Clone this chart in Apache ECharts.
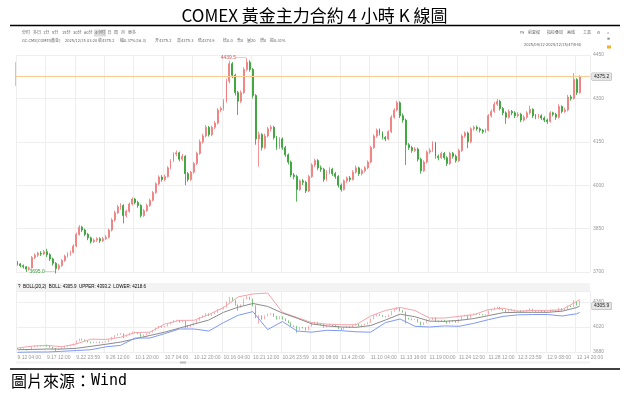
<!DOCTYPE html>
<html>
<head>
<meta charset="utf-8">
<title>COMEX 黃金主力合約 4 小時 K 線圖</title>
<script src="https://cdn.jsdelivr.net/npm/echarts@6/dist/echarts.min.js"></script>
<style>
  html, body { margin: 0; padding: 0; background: #fff; }
  #main { width: 629px; height: 397px; }
</style>
</head>
<body>
<div id="main"></div>
<script>
// x轴时间标签（每10根K线一个）
var tickLabels = ['9.12 04:00', '9.17 12:00', '9.22 23:59', '9.26 12:00', '10.1 20:00',
  '10.7 04:00', '10.12 20:00', '10.16 04:00', '10.21 12:00', '10.26 23:59',
  '10.30 08:00', '11.4 20:00', '11.10 04:00', '11.13 16:00', '11.19 00:00',
  '11.24 12:00', '11.28 12:00', '12.3 23:59', '12.9 08:00', '12.14 20:00'];

// 4小时K线 [开, 收, 低, 高]
var kData = [
  [3732,3728,3722,3738],[3728,3722,3716,3731],[3722,3718,3712,3726],[3718,3710,3700,3721],[3710,3714,3705,3719],
  [3714,3750,3712,3755],[3750,3758,3745,3764],[3758,3765,3752,3770],[3765,3762,3755,3772],[3762,3770,3758,3776],
  [3770,3760,3752,3780],[3760,3745,3738,3765],[3745,3730,3722,3750],[3730,3712,3695,3734],[3712,3722,3706,3728],
  [3722,3740,3718,3745],[3740,3755,3735,3760],[3755,3762,3750,3768],[3762,3768,3756,3774],[3768,3790,3764,3796],
  [3790,3830,3786,3836],[3830,3855,3826,3862],[3855,3845,3838,3860],[3845,3830,3824,3850],[3830,3818,3810,3835],
  [3818,3805,3798,3822],[3805,3810,3800,3816],[3810,3815,3804,3820],[3815,3808,3800,3820],[3808,3815,3804,3821],
  [3815,3820,3810,3828],[3820,3845,3816,3850],[3845,3880,3840,3886],[3880,3905,3874,3912],[3905,3925,3900,3932],
  [3925,3930,3915,3938],[3930,3895,3868,3934],[3895,3910,3888,3916],[3910,3935,3905,3940],[3935,3952,3930,3958],
  [3952,3940,3934,3956],[3940,3930,3922,3946],[3930,3895,3888,3934],[3895,3912,3890,3918],[3912,3930,3908,3936],
  [3930,3948,3925,3954],[3948,3975,3944,3980],[3975,4005,3970,4010],[4005,4028,4000,4034],[4028,4020,4012,4035],
  [4020,4030,4014,4037],[4030,4060,4026,4066],[4060,4085,4055,4090],[4085,4108,4080,4114],[4108,4112,4100,4120],
  [4112,4090,4082,4116],[4090,4100,4084,4108],[4100,4040,4000,4104],[4040,4020,4012,4046],[4020,4045,4015,4050],
  [4045,4075,4040,4080],[4075,4110,4070,4116],[4110,4150,4105,4158],[4150,4170,4144,4178],[4170,4200,4165,4208],
  [4200,4175,4168,4205],[4175,4200,4170,4206],[4200,4215,4194,4222],[4215,4260,4210,4266],[4260,4265,4252,4272],
  [4265,4290,4258,4298],[4290,4360,4285,4368],[4360,4420,4352,4430],[4420,4380,4370,4426],[4380,4320,4310,4385],
  [4320,4290,4243,4326],[4290,4320,4284,4328],[4320,4400,4315,4408],[4400,4425,4394,4439.5],[4425,4400,4392,4432],
  [4400,4310,4300,4405],[4310,4160,4140,4315],[4160,4175,4064,4185],[4175,4130,4120,4180],[4130,4170,4124,4178],
  [4170,4195,4165,4202],[4195,4200,4186,4208],[4200,4165,4158,4205],[4165,4130,4122,4170],[4130,4160,4125,4166],
  [4160,4130,4122,4165],[4130,4105,4098,4136],[4105,4080,4072,4110],[4080,4035,4028,4085],[4035,4030,4020,4042],
  [4030,3985,3943,4036],[3985,4015,3980,4020],[4015,4010,4000,4022],[4010,3980,3973,4015],[3980,4030,3976,4036],
  [4030,4070,4025,4076],[4070,4085,4062,4092],[4085,4060,4052,4090],[4060,4055,4046,4068],[4055,4020,4012,4060],
  [4020,4045,4015,4052],[4045,4055,4038,4062],[4055,4040,4032,4060],[4040,4030,4022,4046],[4030,4000,3992,4035],
  [4000,3985,3978,4006],[3985,4015,3982,4020],[4015,4025,4008,4030],[4025,4020,4012,4032],[4020,4045,4016,4052],
  [4045,4060,4040,4068],[4060,4040,4032,4064],[4040,4050,4034,4056],[4050,4060,4044,4066],[4060,4080,4055,4086],
  [4080,4130,4076,4136],[4130,4170,4125,4176],[4170,4190,4164,4196],[4190,4180,4172,4196],[4180,4165,4158,4186],
  [4165,4160,4152,4170],[4160,4185,4155,4190],[4185,4235,4180,4242],[4235,4260,4230,4266],[4260,4285,4255,4292],
  [4285,4240,4232,4290],[4240,4225,4216,4248],[4225,4140,4070,4230],[4140,4130,4122,4146],[4130,4120,4112,4136],
  [4120,4125,4114,4132],[4125,4090,4082,4130],[4090,4050,4040,4095],[4050,4080,4046,4086],[4080,4115,4075,4120],
  [4115,4120,4108,4128],[4120,4145,4115,4152],[4145,4100,4092,4150],[4100,4095,4086,4106],[4095,4110,4090,4116],
  [4110,4095,4088,4115],[4095,4075,4066,4100],[4075,4110,4070,4116],[4110,4100,4092,4115],[4100,4085,4078,4106],
  [4085,4120,4080,4126],[4120,4170,4115,4176],[4170,4180,4164,4186],[4180,4150,4128,4185],[4150,4195,4145,4200],
  [4195,4200,4188,4206],[4200,4195,4188,4206],[4195,4190,4182,4200],[4190,4185,4178,4194],[4185,4190,4180,4196],
  [4190,4240,4186,4246],[4240,4255,4234,4262],[4255,4280,4250,4288],[4280,4290,4274,4298],[4290,4265,4258,4295],
  [4265,4250,4242,4270],[4250,4235,4212,4255],[4235,4255,4230,4262],[4255,4250,4242,4260],[4250,4240,4232,4256],
  [4240,4245,4234,4252],[4245,4225,4218,4250],[4225,4235,4220,4242],[4235,4250,4230,4256],[4250,4262,4244,4275],
  [4262,4240,4232,4266],[4240,4235,4228,4246],[4235,4240,4230,4246],[4240,4232,4225,4245],[4232,4225,4218,4238],
  [4225,4220,4212,4230],[4220,4250,4216,4256],[4250,4245,4238,4254],[4245,4235,4226,4250],[4235,4272,4230,4280],
  [4272,4255,4248,4276],[4255,4260,4250,4268],[4260,4305,4255,4312],[4305,4300,4292,4312],[4300,4365,4296,4387],
  [4365,4320,4312,4370],[4320,4375.2,4316,4380]
];

// BOLL(20,2) 读图取点：K线序号 / 中轨 / 上轨 / 下轨
var bollIdx = [0,5,10,15,20,25,30,35,40,45,50,55,60,65,70,75,80,85,90,95,
  100,105,110,115,120,125,130,135,140,145,150,155,160,165,170,175,180,185,190,191];
var bollMid = [3711,3715,3720,3720,3730,3757,3785,3815,3860,3905,3950,4005,4060,4115,4220,4290,4340,4300,4210,4140,
  4062,4035,4020,4016,4040,4115,4195,4160,4100,4097,4110,4135,4175,4215,4220,4220,4220,4235,4285,4305.9];
var bollUpper = [3734,3760,3770,3752,3790,3855,3850,3880,3945,3950,4060,4110,4112,4190,4285,4430,4470,4482,4220,4150,
  4080,4060,4051,4051,4170,4245,4285,4245,4142,4142,4165,4187,4258,4275,4235,4246,4246,4255,4370,4393.2];
var bollLower = [3676,3680,3680,3689,3700,3711,3750,3770,3870,3870,3930,3993,3993,3965,4080,4180,4230,3985,4095,3965,
  3950,3975,3970,3955,3950,4080,4129,4030,4020,4035,4030,4070,4120,4165,4185,4190,4190,4170,4200,4218.6];

var lastPrice = 4375.2;
var lastMid = 4305.9;
var peakIdx = 78, peakVal = 4439.5;
var lowIdx = 13, lowVal = 3695.0;

var UP = '#f07878', DOWN = '#2f9e2f';

var myChart = echarts.init(document.getElementById('main'));

var categories = [];
for (var i = 0; i < kData.length + 3; i++) categories.push(i);

function pairs(vals) {
  return bollIdx.map(function (idx, k) { return [idx, vals[k]]; });
}

function plain(v) { return String(v); }

// 工具栏小字
var FS = 4;
var UIFONT = '"Liberation Sans Narrow", "DejaVu Sans Condensed", "Liberation Sans", "Noto Sans CJK SC"';
function txt(x, y, rich, text) {
  return { type: 'text', x: x, y: y, style: { text: text, rich: rich || undefined, fontSize: FS, fill: '#666',
    fontFamily: UIFONT, verticalAlign: 'middle' } };
}

var richRed = { g: { fontSize: FS, color: '#666', fontFamily: UIFONT },
  r: { fontSize: FS, color: '#e0393e', fontFamily: UIFONT } };

var graphics = [
  { type: 'line', shape: { x1: 10, y1: 25.5, x2: 620, y2: 25.5 }, style: { stroke: '#000', lineWidth: 1.5 } },
  { type: 'line', shape: { x1: 10, y1: 369, x2: 620, y2: 369 }, style: { stroke: '#000', lineWidth: 1.5 } },
  { type: 'text', x: 11, y: 381, style: { text: '{a|圖片來源：}{b|Wind}', verticalAlign: 'middle',
    rich: { a: { fontSize: 16, fontFamily: 'Noto Sans CJK TC', color: '#000' },
            b: { fontSize: 15, fontFamily: 'DejaVu Sans Mono', color: '#000' } } } },
  // 周期按钮
  { type: 'rect', shape: { x: 94, y: 29.5, width: 12, height: 7 }, style: { fill: '#dcdcdc' } },
  txt(22, 33, null, '分时'), txt(33, 33, null, '多日'), txt(43, 33, null, '1分'), txt(52, 33, null, '5分'),
  txt(62, 33, null, '15分'), txt(73, 33, null, '30分'), txt(84, 33, null, '60分'), txt(95, 33, null, '4小时'),
  txt(107.5, 33, null, '日'), txt(114, 33, null, '周'), txt(121, 33, null, '月'), txt(128, 33, null, '更多'),
  // 行情信息
  txt(22, 41, null, 'GC.CMX[COMEX黄金]'), txt(65, 41, null, '2025/12/15 03:20'),
  txt(98, 41, richRed, '{g|收}{r|4375.2}'), txt(120, 41, richRed, '{g|幅}{r|0.37%(16.3)}'),
  txt(155, 41, richRed, '{g|开}{r|4375.2}'), txt(177, 41, richRed, '{g|高}{r|4375.3}'),
  txt(198, 41, richRed, '{g|低}{r|4374.9}'), txt(223, 41, richRed, '{g|结}{r|0.0}'),
  txt(237, 41, null, '合0'), txt(247, 41, null, '量20'), txt(260, 41, null, '增0'), txt(270, 41, null, '振0.01%'),
  // 右侧工具
  txt(520, 33, null, 'F9'), txt(528, 33, null, '前复权'), txt(547, 33, null, '指标叠加'), txt(567, 33, null, '画线'),
  txt(583, 33, null, '工具'), txt(597, 33, null, '⚙'), txt(607, 33, null, '»'),
  txt(607, 39, null, '≡'),
  txt(524, 45, null, '2025/09/12-2025/12/15(474H4)'),
  { type: 'rect', shape: { x: 607, y: 45.5, width: 4, height: 3 }, style: { fill: '#f0b030' } },
  { type: 'rect', shape: { x: 15, y: 62, width: 1.2, height: 24 }, style: { fill: '#c8c8c8' } },
  // BOLL 标题栏
  { type: 'rect', shape: { x: 16, y: 283, width: 574, height: 8 }, style: { fill: '#f3f3f3' } },
  { type: 'text', x: 18, y: 287, style: { verticalAlign: 'middle',
    text: '{g|?  BOLL(20,2)  BOLL: 4305.9}{r|  UPPER: 4393.2}{b|  LOWER: 4218.6}',
    rich: { g: { fontSize: 4.5, color: '#555' }, r: { fontSize: 4.5, color: '#e0393e' }, b: { fontSize: 4.5, color: '#4a6cf0' } } } },
  // 滚动条
  { type: 'rect', shape: { x: 16, y: 361.5, width: 574, height: 2 }, style: { fill: '#f2f2f2' } },
  { type: 'rect', shape: { x: 180, y: 361.5, width: 6, height: 2 }, style: { fill: '#bbbbbb' } }
];

var tagLabel = {
  show: true, position: 'end', distance: 2, fontSize: 5, color: '#222',
  backgroundColor: '#e6e6e6', borderColor: '#aaa', borderWidth: 0.5, padding: [1, 2]
};

var option = {
  animation: false,
  title: {
    text: 'COMEX 黃金主力合約 4 小時 K 線圖',
    left: 'center', top: 2,
    textStyle: { fontSize: 17, fontWeight: 'normal', color: '#000',
      fontFamily: '"Liberation Sans Narrow", "Noto Sans CJK TC", sans-serif' }
  },
  graphic: graphics,
  grid: [
    { left: 16, top: 55, width: 574, height: 217 },
    { left: 16, top: 291, width: 574, height: 61 }
  ],
  xAxis: [
    { type: 'category', data: categories, gridIndex: 0, boundaryGap: true,
      axisLine: { show: false }, axisTick: { show: false }, axisLabel: { show: false },
      splitLine: { show: true, interval: 9, lineStyle: { color: '#eeeeee' } } },
    { type: 'category', data: categories, gridIndex: 1, boundaryGap: true,
      axisLine: { show: false }, axisTick: { show: false },
      axisLabel: { show: true, interval: 9, align: 'left', margin: 3, fontSize: 5, color: '#999',
        formatter: function (v, idx) { return tickLabels[idx / 10] || ''; } },
      splitLine: { show: true, interval: 9, lineStyle: { color: '#eeeeee' } } }
  ],
  yAxis: [
    { type: 'value', gridIndex: 0, position: 'right', min: 3700, max: 4450, interval: 150,
      axisLine: { show: false }, axisTick: { show: false },
      axisLabel: { margin: 3, fontSize: 5, color: '#999', formatter: plain },
      splitLine: { lineStyle: { color: '#eeeeee' } } },
    { type: 'value', gridIndex: 1, position: 'right', min: 3680, max: 4510, interval: 340,
      axisLine: { show: false }, axisTick: { show: false },
      axisLabel: { margin: 3, fontSize: 5, color: '#999', showMaxLabel: false, formatter: plain },
      splitLine: { lineStyle: { color: '#eeeeee' } } }
  ],
  series: [
    {
      name: 'K线', type: 'candlestick', xAxisIndex: 0, yAxisIndex: 0, data: kData,
      barWidth: 1.4, clip: false,
      itemStyle: { color: UP, color0: DOWN, borderColor: UP, borderColor0: DOWN, borderWidth: 0.8 },
      markLine: {
        silent: true, symbol: ['none', 'none'],
        lineStyle: { color: '#fcc98f', width: 1, type: 'solid' },
        label: Object.assign({ formatter: '4375.2' }, tagLabel),
        data: [{ yAxis: lastPrice }]
      },
      markPoint: {
        silent: true, symbol: 'circle', symbolSize: 0,
        data: [
          { coord: [peakIdx, peakVal], value: peakVal,
            label: { show: true, position: 'left', distance: 1,
              formatter: '{t|4439.5}{l|——}',
              rich: { t: { fontSize: 5, color: '#e05050' }, l: { fontSize: 5, color: '#6aa0c8' } } } },
          // 低点略低于坐标下限，标注放在下限处
          { coord: [lowIdx, 3700.5], value: lowVal,
            label: { show: true, position: 'left', distance: 1,
              formatter: '{t|3695.0}{l|——}',
              rich: { t: { fontSize: 5, color: '#3a9a3a' }, l: { fontSize: 5, color: '#6aa0c8' } } } }
        ]
      }
    },
    {
      name: 'K线2', type: 'candlestick', xAxisIndex: 1, yAxisIndex: 1, data: kData,
      barWidth: 1.2, clip: false,
      itemStyle: { color: UP, color0: DOWN, borderColor: UP, borderColor0: DOWN, borderWidth: 0.6 }
    },
    { name: 'UPPER', type: 'line', xAxisIndex: 1, yAxisIndex: 1, data: pairs(bollUpper),
      symbol: 'none', clip: false, lineStyle: { color: '#f4a3aa', width: 1 } },
    { name: 'BOLL', type: 'line', xAxisIndex: 1, yAxisIndex: 1, data: pairs(bollMid),
      symbol: 'none', clip: false, lineStyle: { color: '#8a8a8a', width: 1 },
      markLine: {
        silent: true, symbol: ['none', 'none'],
        lineStyle: { color: 'rgba(0,0,0,0)', width: 0 },
        label: Object.assign({ formatter: '4305.9' }, tagLabel),
        data: [{ yAxis: lastMid }]
      } },
    { name: 'LOWER', type: 'line', xAxisIndex: 1, yAxisIndex: 1, data: pairs(bollLower),
      symbol: 'none', clip: false, lineStyle: { color: '#7f98f5', width: 1 } }
  ]
};

myChart.setOption(option);
</script>
</body>
</html>
